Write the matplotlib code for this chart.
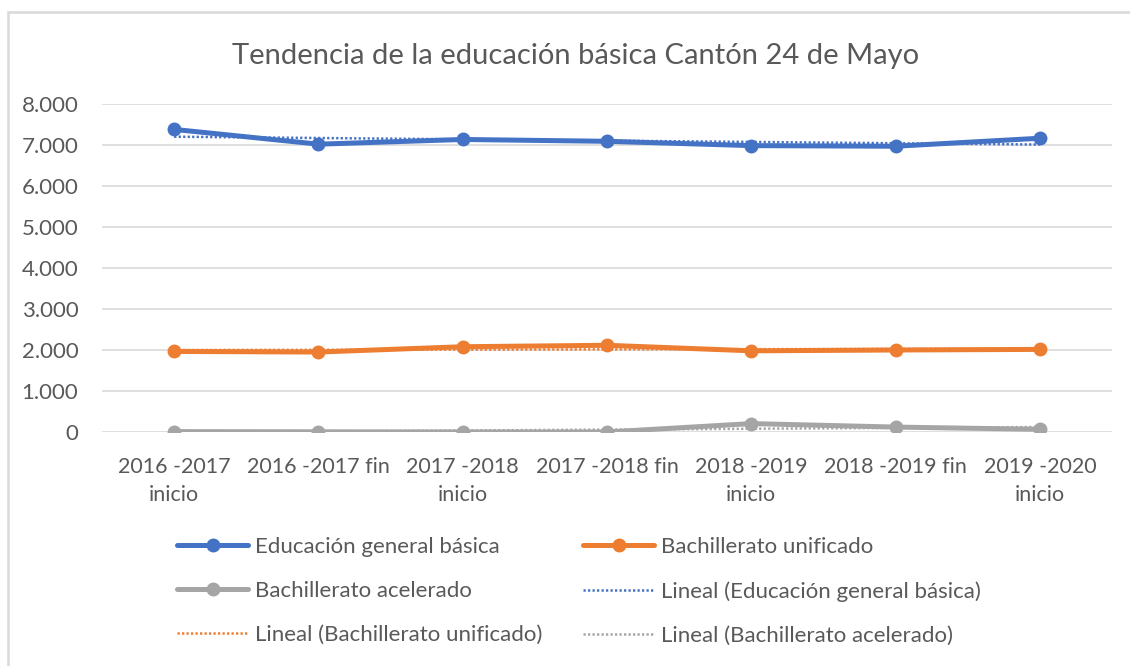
import numpy as np
import matplotlib
matplotlib.use("Agg")
import matplotlib.pyplot as plt
from matplotlib.patches import Rectangle
from matplotlib.ticker import FuncFormatter

plt.rcParams['font.family'] = ['Lato', 'DejaVu Sans']

periodos = ["2016 -2017\ninicio", "2016 -2017 fin", "2017 -2018\ninicio",
            "2017 -2018 fin", "2018 -2019\ninicio", "2018 -2019 fin",
            "2019 -2020\ninicio"]
basica = [7380, 7020, 7135, 7090, 6985, 6970, 7165]
bach_unificado = [1965, 1950, 2080, 2115, 1980, 2000, 2015]
bach_acelerado = [10, 5, 0, 0, 205, 120, 65]

series = [
    ("Educación general básica", basica, "#4472C4"),
    ("Bachillerato unificado", bach_unificado, "#ED7D31"),
    ("Bachillerato acelerado", bach_acelerado, "#A5A5A5"),
]
txt = "#595959"

fig = plt.figure(figsize=(11.3, 6.66), dpi=100)
ax = fig.add_axes([102 / 1130, 1 - 432 / 666, 1010 / 1130, 328 / 666])

x = np.arange(len(periodos))
handles = {}
for name, vals, col in series:
    ln, = ax.plot(x, vals, color=col, lw=3.6, marker="o", ms=9,
                  solid_capstyle="round", zorder=3)
    handles[name] = ln
    # linear trend line
    k, b = np.polyfit(x, vals, 1)
    tl, = ax.plot(x, k * x + b, color=col, lw=1.8, ls=(0, (0.9, 0.9)), zorder=2)
    handles["Lineal (" + name + ")"] = tl

ax.set_xlim(-0.5, len(periodos) - 0.5)
ax.set_ylim(0, 8000)
ax.set_yticks(range(0, 8001, 1000))
ax.yaxis.set_major_formatter(FuncFormatter(lambda v, p: f"{int(v):,}".replace(",", ".")))
ax.set_xticks(x)
ax.set_xticklabels(periodos, linespacing=1.5)
ax.grid(axis="y", color="#d9d9d9", lw=1.2)
ax.set_axisbelow(True)
for s in ax.spines.values():
    s.set_visible(False)
ax.tick_params(length=0, labelsize=16, colors=txt)
ax.tick_params(axis="x", pad=18, labelsize=15.5)
ax.tick_params(axis="y", pad=17)

fig.text(0.509, 1 - 56 / 666, "Tendencia de la educación básica Cantón 24 de Mayo",
         ha="center", va="center", fontsize=21, color=txt)

order = ["Educación general básica", "Bachillerato acelerado",
         "Lineal (Bachillerato unificado)", "Bachillerato unificado",
         "Lineal (Educación general básica)", "Lineal (Bachillerato acelerado)"]
leg = fig.legend([handles[k] for k in order], order, ncol=2,
                 loc="upper left", bbox_to_anchor=(177 / 1130, 1 - 537 / 666),
                 frameon=False, fontsize=16, handlelength=3.2, handletextpad=0.3,
                 labelspacing=1.08, columnspacing=1.85, borderaxespad=0, borderpad=0)
for t in leg.get_texts():
    t.set_color(txt)

# chart area border
fig.patches.append(Rectangle((8 / 1130, -0.05), 1.2, 1 - 12 / 666 + 0.05,
                             transform=fig.transFigure, fill=False,
                             edgecolor="#d9d9d9", lw=1.8))

fig.savefig("out.png", dpi=100)
